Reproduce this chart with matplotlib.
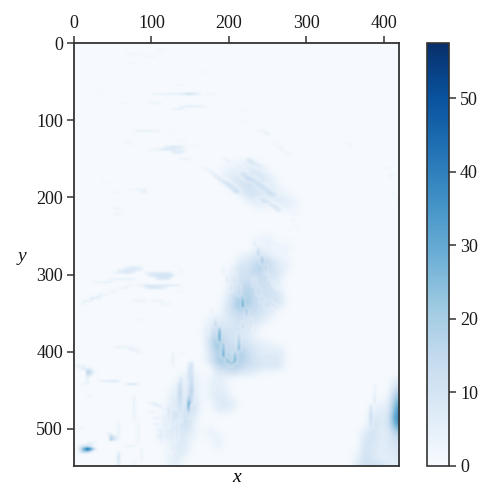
import numpy as np
import matplotlib
matplotlib.use('Agg')
import matplotlib.pyplot as plt

plt.rcParams['font.family'] = ['Liberation Serif', 'DejaVu Serif']

vmax = 57.5
background = 0.3
x_ticks = [0, 100, 200, 300, 400]
y_ticks = [0, 100, 200, 300, 400, 500]
bar_ticks = [0, 10, 20, 30, 40, 50]

# coarse haze, one cell = 10 wide x 8 high: (row, first column, values going right)
n_rows = 69
n_cols = 42
haze_upper = [
    (19, 20, [3, 4, 5, 4]),
    (20, 19, [4, 4, 5, 7, 7, 5]),
    (21, 19, [4, 7, 9, 9, 9, 7, 4]),
    (22, 19, [4, 8, 9, 11, 11, 9, 5]),
    (23, 20, [4, 9, 11, 9, 8, 7, 3]),
    (24, 21, [5, 11, 8, 9, 8, 5, 3]),
    (25, 22, [5, 7, 5, 5, 8, 5, 3]),
    (26, 23, [4, 4, 1, 4, 5, 4]),
]
haze_middle = [
    (31, 23, [3, 4, 3]), (32, 24, [4, 4, 1, 3]), (33, 23, [6, 4, 3, 3, 4]),
    (34, 21, [4, 6, 8, 10, 4, 3]),
    (35, 21, [8, 8, 13, 18, 10, 6, 4]),
    (36, 20, [4, 11, 10, 17, 17, 11, 6, 4]),
    (37, 20, [7, 11, 11, 15, 13, 11, 8]),
    (38, 20, [10, 11, 13, 11, 13, 11, 4]),
    (39, 20, [10, 14, 17, 13, 11, 11, 4]),
    (40, 19, [3, 11, 15, 18, 13, 11, 11, 7]),
    (41, 19, [4, 13, 22, 18, 13, 11, 11, 10]),
    (42, 19, [6, 14, 25, 17, 13, 10, 10, 8]),
    (43, 18, [1, 7, 13, 15, 14, 13, 8, 6, 1]),
    (44, 17, [4, 4, 6, 10, 13, 10, 10, 7, 3]),
    (45, 17, [7, 8, 8, 8, 11, 10, 7, 3]),
    (46, 16, [1, 10, 13, 10, 10, 10, 7, 4]),
    (47, 17, [11, 18, 11, 10, 8, 7, 3]),
    (48, 17, [11, 24, 14, 11, 11, 8, 6, 4, 3]),
    (49, 17, [10, 22, 15, 11, 17, 11, 7, 6, 4, 6]),
    (50, 17, [8, 18, 17, 15, 20, 13, 8, 7, 7, 8, 1]),
    (51, 17, [8, 20, 21, 18, 18, 14, 10, 8, 8, 8]),
    (52, 18, [14, 15, 20, 14, 11, 10, 8, 8, 7]),
    (53, 18, [7, 7, 10, 7, 6, 4, 1, 1]),
    (54, 17, [4, 6, 4]), (55, 17, [4, 6, 4]), (56, 17, [4, 7, 6]), (57, 17, [4, 7, 7, 3]),
    (58, 17, [1, 7, 8, 6]), (59, 18, [6, 6, 3]),
    (62, 17, [4]), (63, 17, [4, 4]), (64, 18, [6]), (65, 18, [4]),
]
haze_plume = [
    (53, 14, [4, 4]), (54, 13, [3, 6, 6]), (55, 13, [6, 6, 7]), (56, 12, [3, 8, 6, 7, 1]),
    (57, 12, [4, 11, 6, 8]), (58, 12, [7, 11, 7, 11, 1]), (59, 12, [7, 11, 10, 11]),
    (60, 11, [3, 10, 11, 14, 6]), (61, 11, [4, 8, 10, 13, 4]), (62, 11, [4, 8, 8, 10, 4]),
    (63, 11, [6, 6, 8, 7, 4]), (64, 11, [3, 4, 8, 6, 1]), (65, 12, [4, 8, 6]),
    (66, 12, [4, 7, 4]), (67, 12, [6, 6]), (68, 12, [6, 3]),
]
haze_wedge = [
    (54, 41, [6]), (55, 41, [10]), (56, 40, [1, 18]), (57, 39, [2, 2, 24]),
    (58, 38, [1, 5, 3, 30]), (59, 38, [4, 7, 5, 34]), (60, 38, [8, 7, 7, 38]),
    (61, 38, [11, 7, 8, 35]), (62, 37, [4, 11, 6, 7, 25]), (63, 37, [8, 11, 6, 7, 16]),
    (64, 37, [10, 10, 6, 7, 12]), (65, 37, [11, 8, 6, 7, 10]), (66, 36, [3, 12, 8, 6, 6, 8]),
    (67, 36, [4, 12, 9, 6, 6, 7]), (68, 36, [7, 12, 13, 11, 7, 6]),
]

# thin streaks, one cell = 5 wide x 4 high: (row, first column, values)
n_fine_rows = 137
n_fine_cols = 84
streaks_top = [
    (3, 13, [2, 3, 3, 2, 1]), (4, 18, [2, 3, 2]), (2, 21, [2, 2, 1]), (6, 14, [2, 2]), (9, 33, [2, 2]),
    (13, 26, [2, 3, 2]), (15, 6, [2, 1]),
    (16, 20, [4, 5, 5, 5, 5, 6, 6, 8, 10, 15, 12, 9, 4]), (16, 34, [3, 3, 2]),
    (19, 12, [2, 2]), (19, 19, [3, 5, 3, 2]), (20, 27, [4, 5, 6, 7, 6, 5, 4, 2]), (21, 25, [4, 5, 5, 2]),
    (28, 15, [2, 5, 6, 7, 6, 5, 4, 2]), (28, 24, [1.5, 1.5]), (32, 13, [4, 4]), (31, 26, [2, 3, 2]),
    (34, 19, [3, 4, 5, 7, 8, 8, 7, 5, 4, 2]), (33, 23, [4, 6, 8, 8, 6, 4]), (35, 25, [6, 8, 8, 4]),
    (37, 27, [4, 5, 4, 2]), (33, 30, [2, 2]),
    (43, 6, [1, 1]), (45, 7, [2, 2]), (49, 7, [1.5, 1.5]), (47, 14, [2, 3, 4, 4, 5]), (48, 17, [4, 4]),
    (48, 10, [2, 2]), (53, 10, [4, 4, 2]), (55, 10, [4, 4, 2]), (60, 11, [1.5]),
    (32, 70, [4, 2]), (33, 71, [2]), (40, 80, [2, 3]), (42, 81, [3, 3]), (43, 81, [2]),
    (48, 82, [2.5]), (49, 82, [2.5]), (50, 83, [2.5]), (52, 83, [2]),
]
streaks_upper = [
    (21, 43, [2, 1]), (25, 43, [2, 2]), (28, 47, [4, 5, 3]), (29, 49, [5, 4]),
    (32, 51, [4]), (33, 52, [4, 3]), (34, 53, [4]), (35, 54, [4, 3]), (36, 55, [3]),
    (40, 33, [4, 3]), (41, 34, [4, 5]), (42, 35, [5, 7]), (43, 36, [7, 8]), (44, 37, [8, 9, 4]),
    (45, 38, [8, 11, 7]), (46, 39, [8, 12, 8]), (47, 40, [7, 12, 9]), (48, 41, [11, 11]),
    (37, 38, [4, 3]), (38, 39, [5, 4]), (39, 41, [5, 4]), (40, 42, [7, 5]), (41, 43, [5, 4]),
    (37, 44, [5, 7]), (38, 44, [7, 11, 7]), (39, 45, [5, 9, 7, 4]), (40, 47, [7, 5, 4]), (41, 49, [4, 3]),
    (42, 42, [7, 12, 9]), (43, 43, [8, 13, 11, 5]), (44, 44, [11, 15, 11, 7]), (45, 46, [12, 13, 8, 4]),
    (46, 47, [12, 13, 7]), (47, 48, [11, 12, 8]), (48, 49, [11, 13, 8, 4]), (49, 50, [11, 11, 7]),
    (50, 47, [9, 9, 7]), (51, 48, [11, 11, 7]), (52, 50, [11, 9, 5]), (53, 51, [9, 8, 4]), (54, 52, [7, 4]),
    (52, 56, [4, 3]), (54, 55, [5]), (55, 56, [4, 4]), (57, 56, [4]), (59, 57, [4]), (60, 55, [3]),
    (64, 48, [4, 5, 5, 4]), (65, 51, [4, 4, 4]),
]
streaks_arc = [
    (72, 13, [4, 5, 7, 5, 4]), (73, 11, [5, 7, 8, 9, 8, 7, 4]), (74, 10, [4, 5, 7, 8, 7, 3]),
    (76, 9, [4, 4, 5, 5, 5, 5, 4]), (77, 5, [4, 4, 5, 5, 4]),
    (74, 18, [5, 7, 8, 9, 9, 9, 8, 4]), (75, 19, [7, 8, 9, 11, 11, 11, 8]), (76, 21, [8, 9, 8, 7]),
    (78, 16, [4, 5, 8, 9, 9, 9, 8, 8, 8, 7, 7, 4]), (79, 18, [5, 7, 8, 8, 7, 5]),
    (79, 11, [3, 4, 4]), (80, 9, [4, 4]), (78, 13, [3, 3]),
    (81, 6, [5, 5, 4]), (82, 4, [7, 8, 7]), (83, 2, [4, 5, 5]), (84, 1, [3, 4]),
    (83, 15, [4, 5, 5, 4]), (83, 20, [4, 4, 4]), (84, 22, [3, 4, 4]), (83, 13, [2]),
    (72, 26, [3]), (73, 27, [3]), (74, 27, [2]), (80, 26, [3, 3]), (89, 16, [2, 2]),
    (98, 10, [4, 6, 6, 5, 4, 3]), (99, 14, [4, 5, 4]), (100, 16, [4, 3]), (100, 27, [2, 2]),
]
spots_left = [
    (131, 1, [10, 30, 48, 34, 12]), (130, 1, [5, 10, 10, 5]), (132, 1, [8, 18, 18, 6]), (129, 3, [4, 6, 4]),
    (127, 9, [18, 7]), (128, 9, [24, 8]), (126, 8, [4, 5]),
    (106, 3, [20, 11, 4]), (107, 3, [14, 7]), (105, 1, [4, 7, 7, 5]), (104, 0, [4, 4, 4]),
    (108, 3, [5]), (109, 3, [5]), (110, 2, [4, 3]),
    (109, 6, [4, 7, 7, 9, 11, 7]), (110, 13, [7, 11, 11, 5]), (114, 3, [3, 3]),
    (130, 13, [4, 5, 4]), (124, 1, [3, 3]), (125, 0, [3]),
]
streaks_plume = [
    (116, 19, [4, 5, 4]), (117, 20, [5, 7, 5]), (118, 22, [5, 4]),
    (119, 19, [5, 5]), (121, 20, [5, 7]), (123, 20, [5, 7]), (125, 21, [5, 5]), (127, 21, [4]),
]

# steep streaks: (first row, column, values going down)
steep_middle = [
    (63, 46, [4, 7, 8]), (66, 47, [11, 17, 20]), (69, 48, [22, 25, 20]), (72, 49, [18, 15, 13]),
    (75, 50, [11, 10]), (77, 51, [8, 7]), (79, 52, [5]), (67, 54, [4, 4]), (69, 55, [4, 4]),
    (74, 41, [7, 8, 11, 11]), (78, 42, [13, 14, 17, 18]), (82, 43, [25, 30, 34, 32]), (86, 44, [27, 22, 17]),
    (89, 45, [14, 11, 10]), (92, 46, [8, 7]),
    (76, 46, [13, 14, 15]), (79, 47, [15, 17, 15]), (82, 48, [15, 14]), (84, 49, [14, 13]),
    (83, 50, [11, 10]), (84, 51, [10, 8]), (85, 52, [7, 5]),
    (72, 38, [4, 5, 5]), (75, 39, [7, 7, 7]), (78, 40, [8, 10, 10]),
    (86, 35, [4, 5]), (88, 36, [7, 10, 14, 19]), (92, 37, [27, 33, 36, 35, 32]),
    (97, 38, [27, 27, 32, 36, 34]), (102, 39, [30, 24]),
    (90, 34, [4, 5, 5, 7, 7]),
    (94, 42, [17, 19, 22, 27, 30, 27]), (100, 41, [24, 30, 32, 24]), (103, 40, [22, 19]), (90, 43, [13, 14, 14]),
]
steep_plume = [
    (107, 27, [5, 8, 12, 14, 15, 15, 17, 17, 15, 14, 12, 11, 10, 8, 7, 7]),
    (122, 26, [7, 8, 10, 10, 8, 8, 7]), (129, 25, [8, 7, 7, 5]), (133, 24, [5, 5, 4, 4]),
    (103, 29, [5, 7, 8, 10, 10, 10, 8, 8, 10, 11, 12, 17, 22, 32, 34, 30, 19, 12, 10]),
    (103, 30, [8, 10, 11, 11, 11, 12, 14, 15, 17, 18, 17, 14, 11, 10]),
    (100, 25, [4, 5, 5, 5, 4]), (110, 26, [5, 5, 7, 7, 8, 8, 8, 8, 8]),
    (116, 24, [5, 7, 8, 10, 8, 8, 7, 5, 4]), (125, 22, [7, 7, 7, 5, 4]),
    (114, 15, [4, 5, 5, 5, 5, 5, 5, 4, 4]), (123, 16, [4, 4, 4, 4, 4, 4, 3]),
    (131, 17, [3, 4, 4, 4, 3]), (135, 15, [4, 4]),
    (122, 11, [4, 5, 5, 5, 4, 4, 4]), (132, 11, [7, 12, 14, 11, 7]),
    (110, 77, [4, 4, 5, 5, 7, 7, 7]), (117, 76, [10, 12, 14, 17, 17, 14, 12, 11]),
]

# fill both grids
grid = np.full((n_rows, n_cols), background)
for part in [haze_upper, haze_middle, haze_plume, haze_wedge]:
    for row, col, vals in part:
        for i, v in enumerate(vals):
            grid[row, col + i] = max(grid[row, col + i], v)

fine = np.zeros((n_fine_rows, n_fine_cols))
for part in [streaks_top, streaks_upper, streaks_arc, spots_left, streaks_plume]:
    for row, col, vals in part:
        for i, v in enumerate(vals):
            fine[row, col + i] = max(fine[row, col + i], v)
for part in [steep_middle, steep_plume]:
    for row, col, vals in part:
        for i, v in enumerate(vals):
            fine[row + i, col] = max(fine[row + i, col], v)

fig = plt.figure(figsize=(4.94, 5.0), dpi=100)
W, H = 494.0, 500.0
ax = fig.add_axes([74 / W, 1 - 466 / H, 325 / W, 423 / H])
im = ax.imshow(grid, cmap='Blues', vmin=0, vmax=vmax, aspect='auto',
               extent=[0, 420, n_rows * 8, 0], interpolation='bicubic')
# thin streaks go over the haze
ax.imshow(fine, cmap='Blues', vmin=0, vmax=vmax, aspect='auto', alpha=np.clip(fine / 2, 0, 1),
          extent=[0, 420, n_fine_rows * 4, 0], interpolation='gaussian')
ax.set_xlim(0, 420)
ax.set_ylim(548, 0)
ax.xaxis.tick_top()
ax.set_xticks(x_ticks)
ax.set_yticks(y_ticks)
ax.tick_params(length=5, width=1.1, labelsize=13, color='#333333', labelcolor='#1a1a1a', pad=3)
for s in ax.spines.values():
    s.set_linewidth(1.3)
    s.set_color('#333333')
ax.set_xlabel('x', style='italic', fontsize=14, labelpad=2)
ax.xaxis.set_label_position('bottom')
ax.set_ylabel('y', style='italic', fontsize=14, rotation=0, va='center', ha='center', color='#1a1a1a')
ax.yaxis.set_label_coords(-52 / 325, 0.5 - 2 / 423)

cax = fig.add_axes([427 / W, 1 - 466 / H, 22 / W, 423 / H])
cb = fig.colorbar(im, cax=cax)
cb.set_ticks(bar_ticks)
cb.ax.tick_params(length=5, width=1.1, labelsize=13, color='#333333', labelcolor='#1a1a1a', pad=3)
cb.outline.set_linewidth(1.2)
cb.outline.set_edgecolor('#333333')

fig.savefig('out.png', dpi=100)
